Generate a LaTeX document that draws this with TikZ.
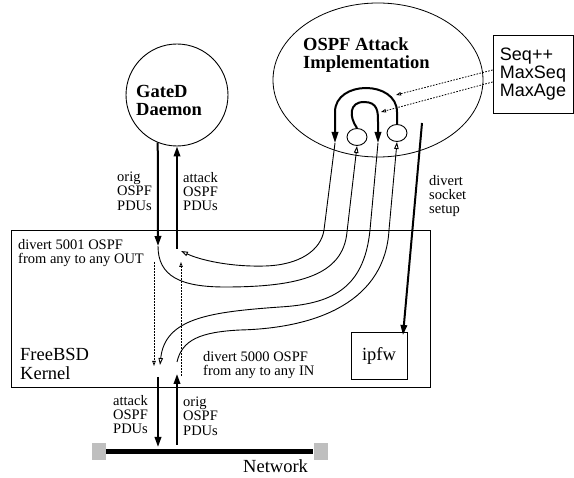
\documentclass[tikz,border=0pt]{standalone}
\usepackage{fontspec}
\setmainfont{Liberation Serif}
\setsansfont{Liberation Sans}
\usetikzlibrary{arrows.meta,shapes.geometric}
\begin{document}
\begin{tikzpicture}[x=1pt,y=-1pt,
  lbl/.style={font=\fontsize{14.5}{14.2}\selectfont, align=left, inner sep=0pt, anchor=north west},
  bigl/.style={font=\fontsize{18.5}{19.5}\selectfont, align=left, inner sep=0pt, anchor=north west},
  boldl/.style={font=\fontsize{18.5}{18}\selectfont\bfseries, align=left, inner sep=0pt, anchor=north west},
  fat/.style={line width=2pt, -{Triangle[length=10pt,width=6.5pt]}},
  loopline/.style={line width=2pt, -{Triangle[length=11pt,width=6.5pt]}},
  flow/.style={line width=0.9pt},
  flowtip/.style={flow, -{Triangle[open,length=7pt,width=4.5pt]}},
  dotl/.style={line width=0.8pt, dash pattern=on 1.6pt off 1.4pt, -{Triangle[open,length=5pt,width=3.5pt]}},
  smallc/.style={ellipse, draw, line width=0.9pt, minimum width=20pt, minimum height=17pt, inner sep=0pt},
  sq/.style={fill=gray!50, minimum width=14pt, minimum height=17pt, inner sep=0pt}
]
\useasboundingbox (0,0) rectangle (574,478);

% main shapes
\node[draw, line width=0.8pt, ellipse, minimum width=210pt, minimum height=154pt, inner sep=0pt] (att) at (378,80) {};
\node[draw, line width=0.9pt, circle, minimum size=102pt, inner sep=0pt] (gated) at (177,95) {};
\node[draw, line width=0.8pt, anchor=north west, minimum width=419pt, minimum height=157pt, inner sep=0pt] (kern) at (11,230) {};
\node[draw, line width=0.8pt, minimum width=56pt, minimum height=47pt, inner sep=0pt, font=\fontsize{18.5}{18}\selectfont] (ipfw) at (379,355.5) {ipfw};
\node[draw, line width=0.8pt, minimum width=80pt, minimum height=78pt, align=left, font=\sffamily\fontsize{18}{18}\selectfont] (seq) at (533,74) {Seq++\\MaxSeq\\MaxAge};
\node[smallc] (lc) at (357,137) {};
\node[smallc] (rc) at (397,133) {};
\node[sq] (nl) at (99,451.5) {};
\node[sq] (nr) at (320.5,451.5) {};
\draw[line width=4.5pt] (nl.east) -- (nr.west);

% coordinates
\coordinate (o1) at (335,143);
\coordinate (i1) at (378,143);
\coordinate (gdn) at (158,246);
\coordinate (gup) at (177,249);
\coordinate (aend) at (181,251);
\coordinate (cend) at (160,365);
\coordinate (dstart) at (177,362);
\coordinate (ndn1) at (158,377);
\coordinate (ndn2) at (158,447);
\coordinate (nup1) at (177,445);
\coordinate (nup2) at (177,374);
\coordinate (dv1) at (422,123);
\coordinate (dv2) at (403,335);
\coordinate (dd1) at (154,262);
\coordinate (dd2) at (154,366);
\coordinate (du1) at (181,376);
\coordinate (du2) at (181,262);
\coordinate (p1) at (396,95);
\coordinate (p2) at (381,112);

% thick loops in the attack implementation
\draw[loopline] (rc.north) -- (397,112) .. controls (397,80) and (335,80) .. (335,112) -- (o1);
\draw[loopline] (lc.north) .. controls (349,117) and (349,102) .. (364,102) .. controls (378,102) and (378,112) .. (378,122) -- (i1);

% thin flows
\draw[flowtip] (o1) -- (324,230) .. controls (321,250) and (300,265) .. (265,266) .. controls (230,267) and (200,260) .. (aend);
\draw[flowtip] (gdn) .. controls (158,276) and (180,287) .. (225,287) .. controls (300,287) and (343,275) .. (347,232) -- (lc.south);
\draw[flowtip] (i1) -- (370,230) .. controls (364,290) and (330,304) .. (280,307) .. controls (210,312) and (165,318) .. (cend);
\draw[flowtip] (dstart) .. controls (182,340) and (200,332) .. (240,330) .. controls (320,328) and (385,300) .. (389,230) -- (rc.south);

% dotted
\draw[dotl] (dd1) -- (dd2);
\draw[dotl] (du1) -- (du2);
\draw[dotl] ([yshift=4pt]seq.west) -- (p1);
\draw[dotl] ([yshift=-8pt]seq.west) -- (p2);

% thick arrows
\draw[fat] (gated.-112) -- (gdn);
\draw[fat] (gup) -- (gated.south);
\draw[fat] (ndn1) -- (ndn2);
\draw[fat] (nup1) -- (nup2);
\draw[fat] (dv1) -- (dv2);

% labels
\node[boldl] (tatt) at (303,37) {OSPF Attack\\Implementation};
\node[boldl] (tgd) at (136,85.5) {GateD\\Daemon};
\node[lbl] (tlo) at (117,172) {orig\\OSPF\\PDUs};
\node[lbl] (tla) at (183,172) {attack\\OSPF\\PDUs};
\node[lbl] (tds) at (429,175) {divert\\socket\\setup};
\node[lbl] (t5001) at (18,239) {divert 5001 OSPF\\from any to any OUT};
\node[bigl] (tbsd) at (20,348) {FreeBSD\\Kernel};
\node[lbl] (t5000) at (203,351) {divert 5000 OSPF\\from any to any IN};
\node[lbl] (tba) at (113,395) {attack\\OSPF\\PDUs};
\node[lbl] (tbo) at (183,397) {orig\\OSPF\\PDUs};
\node[font=\fontsize{18.5}{18}\selectfont, inner sep=0pt, anchor=base west] (tnet) at (243,473) {Network};
\end{tikzpicture}
\end{document}
